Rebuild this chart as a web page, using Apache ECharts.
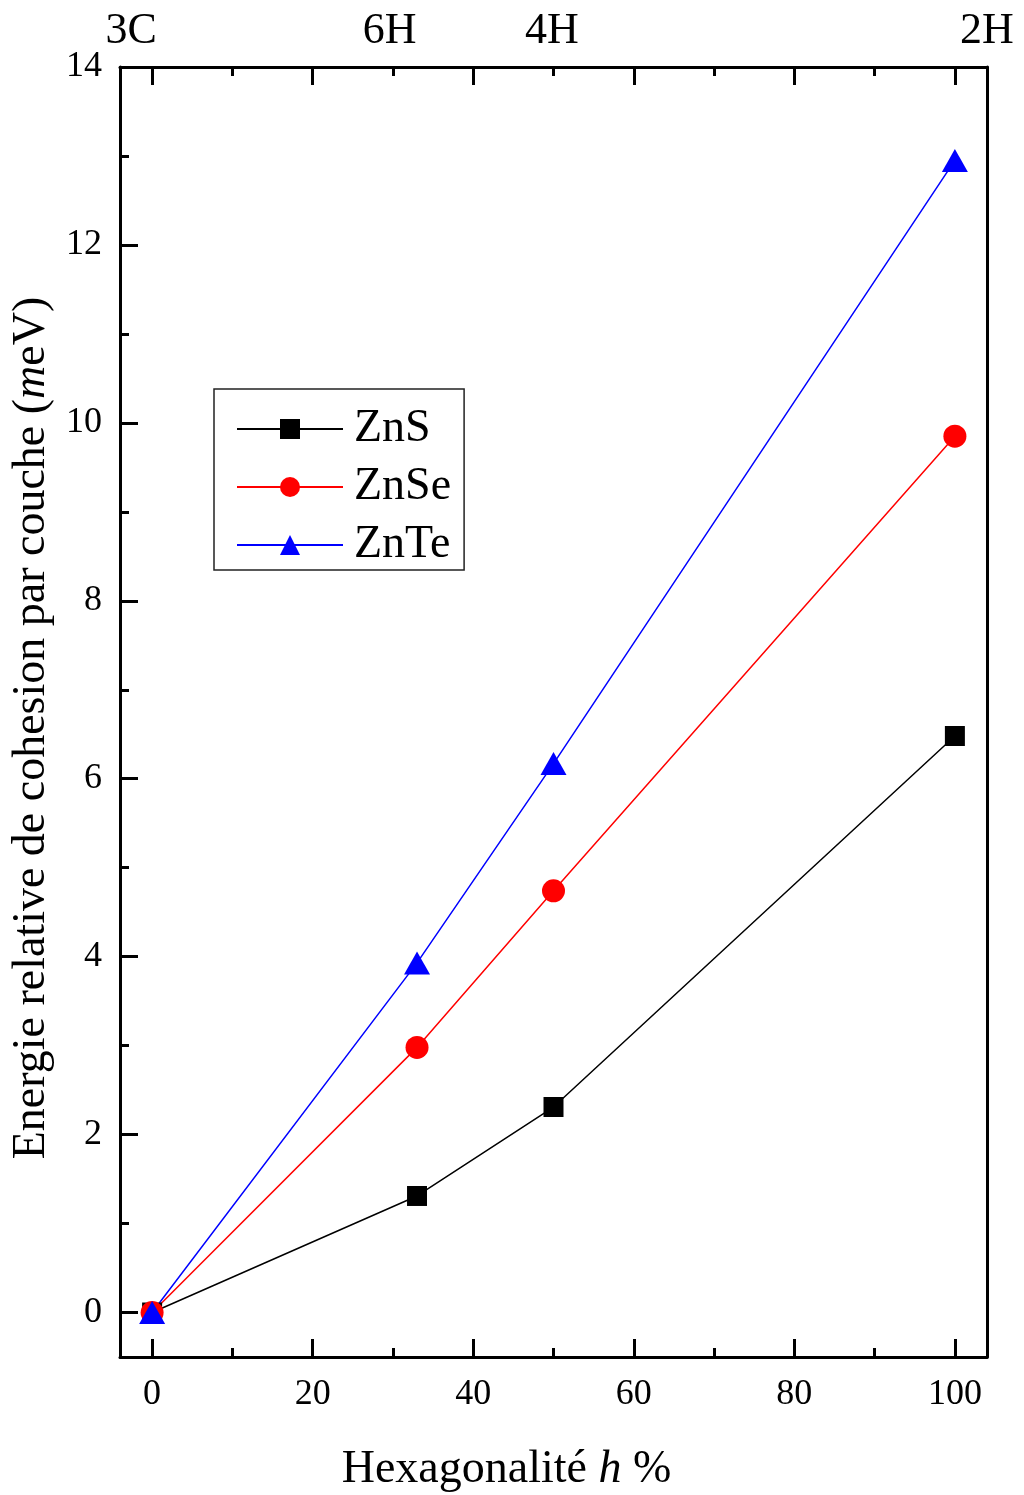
<!DOCTYPE html>
<html>
<head>
<meta charset="utf-8">
<script src="https://cdn.jsdelivr.net/npm/echarts@6/dist/echarts.min.js"></script>
<style>
  html, body { margin: 0; padding: 0; background: #fff; }
  #chart { width: 1024px; height: 1495px; }
</style>
</head>
<body>
<div id="chart"></div>
<script>
// Hexagonality (%) of each polytype
const hexagonality = [0, 33, 50, 100];

// Relative cohesive energy per layer (meV)
const znS  = [0, 1.31, 2.31, 6.48];
const znSe = [0, 2.98, 4.74, 9.85];
const znTe = [0, 3.93, 6.17, 12.95];

// Tick values
const xMajorTicks = [0, 20, 40, 60, 80, 100];
const xMinorTicks = [10, 30, 50, 70, 90];
const yMajorTicks = [0, 2, 4, 6, 8, 10, 12, 14];
const yMinorTicks = [1, 3, 5, 7, 9, 11, 13];

// Polytype names on the top axis and where their labels sit
const polytypes = ['3C', '6H', '4H', '2H'];
const polytypeLabelAt = [-2.6, 29.6, 49.8, 104];

const FONT = '"Liberation Serif", "Times New Roman", serif';
const AXIS = '#000';

function pairs(ys) {
  return hexagonality.map((x, i) => [x, ys[i]]);
}

const lineAxis = { show: true, onZero: false, lineStyle: { color: AXIS, width: 3 } };
const noLine = { show: false, onZero: false };

function xAx(pos, ticks, len, extra) {
  return Object.assign({
    type: 'value', position: pos, min: -4, max: 104,
    axisLine: lineAxis,
    axisTick: { show: true, inside: true, customValues: ticks, length: len, lineStyle: { color: AXIS, width: 3 } },
    axisLabel: { show: false },
    splitLine: { show: false }
  }, extra || {});
}
function yAx(pos, ticks, len, extra) {
  return Object.assign({
    type: 'value', position: pos, min: -0.5, max: 14,
    axisLine: lineAxis,
    axisTick: { show: !!ticks, inside: true, customValues: ticks || [], length: len, lineStyle: { color: AXIS, width: 3 } },
    axisLabel: { show: false },
    splitLine: { show: false }
  }, extra || {});
}

const chart = echarts.init(document.getElementById('chart'), null, { renderer: 'canvas' });

chart.setOption({
  backgroundColor: '#fff',
  animation: false,
  grid: { left: 120, right: 37, top: 67, bottom: 138, containLabel: false, outerBoundsMode: 'none' },
  xAxis: [
    xAx('bottom', xMajorTicks, 18, {
      axisLabel: { show: true, customValues: xMajorTicks, margin: 20, color: '#000', fontFamily: FONT, fontSize: 36 },
      name: 'Hexagonalité {i|h} %',
      nameLocation: 'middle',
      nameGap: 90,
      nameTextStyle: {
        color: '#000', fontFamily: FONT, fontSize: 46, padding: [0, 94, 0, 0],
        rich: { i: { fontStyle: 'italic', fontFamily: FONT, fontSize: 46, color: '#000' } }
      }
    }),
    xAx('bottom', xMinorTicks, 9, { axisLine: noLine }),
    xAx('top', xMajorTicks, 18, {
      axisLabel: {
        show: true, customValues: polytypeLabelAt, margin: 14, color: '#000', fontFamily: FONT, fontSize: 44,
        formatter: v => {
          const i = polytypeLabelAt.findIndex(p => Math.abs(p - v) < 1e-6);
          return i >= 0 ? polytypes[i] : '';
        }
      }
    }),
    xAx('top', xMinorTicks, 9, { axisLine: noLine })
  ],
  yAxis: [
    yAx('left', yMajorTicks, 18, {
      axisLabel: { show: true, customValues: yMajorTicks, margin: 18, color: '#000', fontFamily: FONT, fontSize: 36 },
      name: 'Energie relative de cohesion par couche ({i|m}eV)',
      nameLocation: 'middle',
      nameGap: 58,
      nameTextStyle: {
        color: '#000', fontFamily: FONT, fontSize: 46, padding: [0, 32, 0, 0],
        rich: { i: { fontStyle: 'italic', fontFamily: FONT, fontSize: 46, color: '#000' } }
      }
    }),
    yAx('left', yMinorTicks, 9, { axisLine: noLine }),
    yAx('right', null, 0)
  ],
  legend: {
    orient: 'vertical',
    left: 214, top: 389,
    padding: [17, 13, 2, 22],
    itemWidth: 106, itemHeight: 25, itemGap: 12,
    borderColor: '#222', borderWidth: 1.5,
    textStyle: { color: '#000', fontFamily: FONT, fontSize: 46, padding: [0, 0, 0, 6] },
    data: ['ZnS', 'ZnSe', 'ZnTe']
  },
  series: [
    {
      name: 'ZnS', type: 'line', data: pairs(znS),
      symbol: 'rect', symbolSize: 20,
      lineStyle: { color: '#000', width: 1.5 },
      itemStyle: { color: '#000' }
    },
    {
      name: 'ZnSe', type: 'line', data: pairs(znSe),
      symbol: 'circle', symbolSize: 23,
      lineStyle: { color: '#ff0000', width: 1.5 },
      itemStyle: { color: '#ff0000' }
    },
    {
      name: 'ZnTe', type: 'line', data: pairs(znTe),
      symbol: 'triangle', symbolSize: [26, 23],
      lineStyle: { color: '#0000ff', width: 1.5 },
      itemStyle: { color: '#0000ff' }
    }
  ]
});
</script>
</body>
</html>
